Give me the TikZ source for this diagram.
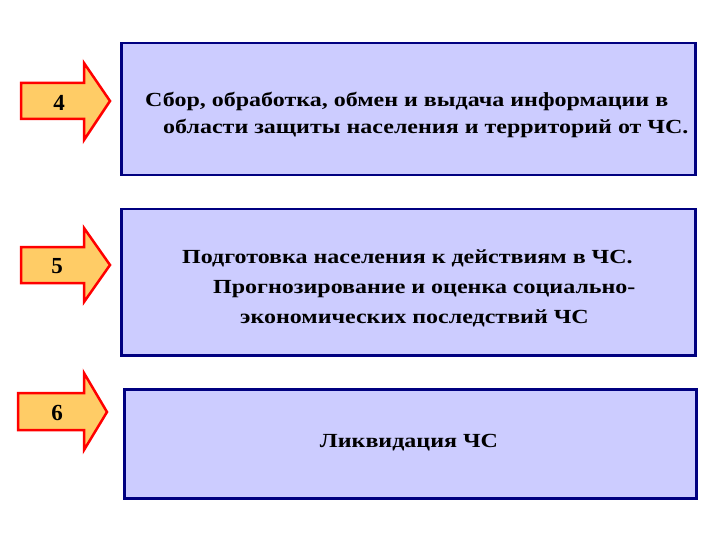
\documentclass[tikz,border=0pt]{standalone}
\usepackage{fontspec}
\setmainfont{Liberation Serif}
\newfontfamily\boxfont[FakeStretch=1.2]{Liberation Serif}
\definecolor{navy}{RGB}{0,0,128}
\definecolor{lav}{RGB}{204,204,255}
\definecolor{orng}{RGB}{255,204,102}
\begin{document}
\begin{tikzpicture}[x=1pt,y=-1pt,
  box/.style={draw=navy, line width=2.5pt, fill=lav, anchor=north west, inner sep=0pt},
  arrowshape/.style={draw=red, line width=2.5pt, fill=orng, line join=miter},
  txt/.style={font=\boxfont\bfseries\fontsize{20}{27}\selectfont, align=left, text=black, inner sep=0pt},
  num/.style={font=\bfseries\fontsize{23}{24}\selectfont, text=black}]
\useasboundingbox (0,0) rectangle (720,540);
% boxes
\node[box, minimum width=574pt, minimum height=132pt] (b1) at (120,42) {};
\node[box, minimum width=574pt, minimum height=146pt] (b2) at (120,208) {};
\node[box, minimum width=572pt, minimum height=109pt] (b3) at (123,388) {};
% texts
\node[txt, anchor=west] (t1) at (145,115) {Сбор, обработка, обмен и выдача информации в\\
\hspace*{18pt}области защиты населения и территорий от ЧС.};
\node[txt, anchor=west, font=\boxfont\bfseries\fontsize{20}{30}\selectfont] (t2) at (182,288) {Подготовка населения к действиям в ЧС.\\
\hspace*{31pt}Прогнозирование и оценка социально-\\
\hspace*{58pt}экономических последствий ЧС};
\node[txt] (t3) at (409,443) {Ликвидация ЧС};
% arrows
\draw[arrowshape] (21,83) -- (84,83) -- (84,63) -- (110,101) -- (84,140) -- (84,119) -- (21,119) -- cycle;
\draw[arrowshape] (21,247) -- (84,247) -- (84,228) -- (110,265) -- (84,302) -- (84,283) -- (21,283) -- cycle;
\draw[arrowshape] (18,393) -- (84,393) -- (84,373) -- (107,412) -- (84,450) -- (84,430) -- (18,430) -- cycle;
\node[num] (n4) at (59,103) {4};
\node[num] (n5) at (57,266) {5};
\node[num] (n6) at (57,413) {6};
\end{tikzpicture}
\end{document}
